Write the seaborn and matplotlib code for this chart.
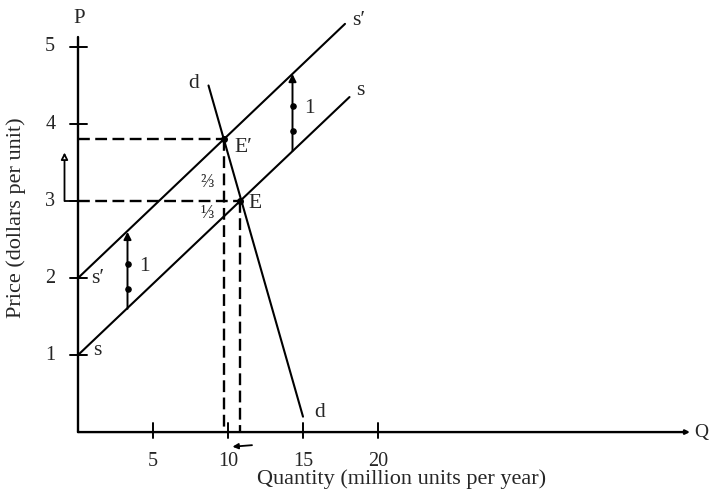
import matplotlib
matplotlib.use("Agg")
import matplotlib.pyplot as plt
import pandas as pd
import seaborn as sns

# supply, shifted supply and demand lines (quantity, price)
q_s = [0, 18.1]
p_s = [1, 4.35]
q_s2 = [0, 17.8]
p_s2 = [2, 5.3]
q_d = [8.7, 15.0]
p_d = [4.5, 0.2]

# equilibria before and after the tax
eq_q = [10.8, 9.7]
eq_p = [3.0, 3.8]
eq_names = ["E", "E\u2032"]

# tax shift arrows (quantity, base price on s)
tax_q = [3.3, 14.3]
tax_base = [1.6, 3.65]
tax = 1

x_ticks = [5, 10, 15, 20]
y_ticks = [1, 2, 3, 4, 5]

sns.set_style("white")
plt.rcParams["font.family"] = ["Liberation Serif", "DejaVu Serif"]

lines = pd.concat([
    pd.DataFrame({"Q": q_s, "P": p_s, "curve": "s"}),
    pd.DataFrame({"Q": q_s2, "P": p_s2, "curve": "s2"}),
    pd.DataFrame({"Q": q_d, "P": p_d, "curve": "d"}),
])

fig = plt.figure(figsize=(7.11, 4.96), dpi=100)
ax = fig.add_axes([0, 0, 1, 1])
ax.set_xlim(-5.2, 42.2)
ax.set_ylim(-0.83, 5.61)
ax.axis("off")

sns.lineplot(data=lines, x="Q", y="P", units="curve", estimator=None,
             sort=False, color="black", lw=1.5, ax=ax, legend=False)

# axes drawn by hand
ax.annotate("", xy=(40.8, 0), xytext=(0, 0),
            arrowprops=dict(arrowstyle="-|>", color="black", lw=1.7,
                            mutation_scale=6, shrinkA=0, shrinkB=0))
ax.plot([0, 0], [0, 5.13], color="black", lw=1.7)
for x in x_ticks:
    ax.plot([x, x], [-0.08, 0.12], color="black", lw=1.4)
    ax.text(x, -0.38, str(x), ha="center", va="center", fontsize=14.5)
for y in y_ticks:
    ax.plot([-0.55, 0.6], [y, y], color="black", lw=1.4)
    ax.text(-1.85, y, str(y), ha="center", va="center", fontsize=14.5)
ax.text(0.05, 5.37, "P", ha="center", va="center", fontsize=15)
ax.text(41.1, 0.0, "Q", ha="left", va="center", fontsize=14)
ax.text(21.6, -0.61, "Quantity (million units per year)", ha="center",
        va="center", fontsize=16)
ax.text(-4.1, 2.78, "Price (dollars per unit)", ha="center", va="center",
        rotation=90, fontsize=16)

# dashed guides to the equilibria
for q, p in zip(eq_q, eq_p):
    ax.plot([0, q], [p, p], color="black", lw=1.7, dashes=(5, 2.3))
    ax.plot([q, q], [p, 0], color="black", lw=1.7, dashes=(5, 2.3))
ax.scatter(eq_q, eq_p, s=16, color="black", zorder=5)
ax.text(eq_q[0] + 1.0, eq_p[0] - 0.03, eq_names[0], ha="center",
        va="center", fontsize=15.5)
ax.text(eq_q[1] + 1.3, eq_p[1] - 0.1, eq_names[1], ha="center",
        va="center", fontsize=15.5)
ax.text(8.6, 3.24, "\u2154", ha="center", va="center", fontsize=13)
ax.text(8.6, 2.84, "\u2153", ha="center", va="center", fontsize=13)

# curve labels
ax.text(18.7, 5.35, "s\u2032", ha="center", va="center", fontsize=15.5)
ax.text(18.8, 4.44, "s", ha="center", va="center", fontsize=15.5)
ax.text(1.3, 2.0, "s\u2032", ha="center", va="center", fontsize=15.5)
ax.text(1.3, 1.06, "s", ha="center", va="center", fontsize=15.5)
ax.text(7.7, 4.52, "d", ha="center", va="center", fontsize=15.5)
ax.text(16.1, 0.26, "d", ha="center", va="center", fontsize=15.5)

# vertical tax arrows between s and s'
for q, base in zip(tax_q, tax_base):
    ax.annotate("", xy=(q, base + tax), xytext=(q, base),
                arrowprops=dict(arrowstyle="-|>", color="black", lw=1.4,
                                mutation_scale=11, shrinkA=0, shrinkB=0))
    ax.scatter([q, q], [base + 0.26, base + 0.58], s=14, color="black",
               zorder=5)
    ax.text(q + 1.1, base + 0.55, str(tax), ha="center", va="center",
            fontsize=15.5)

# price rise arrow at the left and quantity fall arrow under the axis
ax.plot([-0.9, 0], [3.0, 3.0], color="black", lw=1.3)
ax.annotate("", xy=(-0.9, 3.63), xytext=(-0.9, 3.0),
            arrowprops=dict(arrowstyle="-|>", color="black", lw=1.3,
                            mutation_scale=10, fc="white", shrinkA=0,
                            shrinkB=0))
ax.annotate("", xy=(10.3, -0.19), xytext=(11.6, -0.17),
            arrowprops=dict(arrowstyle="-|>", color="black", lw=1.3,
                            mutation_scale=8, shrinkA=0, shrinkB=0))

fig.savefig("out.png", dpi=100)
